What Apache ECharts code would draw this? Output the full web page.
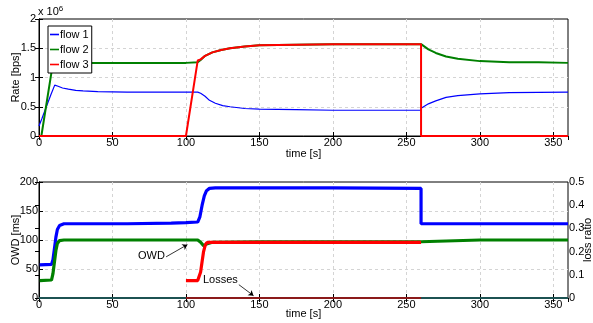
<!DOCTYPE html>
<html>
<head>
<meta charset="utf-8">
<script src="https://cdn.jsdelivr.net/npm/echarts@6/dist/echarts.min.js"></script>
<style>
  html, body { margin: 0; padding: 0; background: #fff; }
  #chart { width: 593px; height: 323px; }
</style>
</head>
<body>
<div id="chart"></div>
<script>
// top panel: rate in units of 1e6 bps
const rate1T = [0, 2, 5, 8, 10.7, 13, 16, 20, 25, 30, 40, 60, 80, 100, 108, 110, 113, 116, 120, 125, 130, 140, 150, 175, 200, 230, 260, 260.3, 265, 270, 277, 285, 300, 320, 340, 360];
const rate1V = [0.17, 0.3, 0.5, 0.7, 0.87, 0.85, 0.82, 0.8, 0.78, 0.77, 0.76, 0.75, 0.75, 0.75, 0.75, 0.73, 0.68, 0.61, 0.56, 0.52, 0.5, 0.47, 0.46, 0.45, 0.44, 0.44, 0.44, 0.48, 0.55, 0.6, 0.66, 0.69, 0.72, 0.74, 0.745, 0.75];
const rate2T = [1.6, 9.5, 12, 20, 40, 60, 80, 100, 108, 110, 113, 118, 124, 130, 140, 150, 175, 200, 230, 260, 260.3, 265, 270, 277, 285, 300, 320, 340, 360];
const rate2V = [0, 1.25, 1.25, 1.25, 1.25, 1.25, 1.25, 1.25, 1.26, 1.3, 1.37, 1.43, 1.47, 1.5, 1.53, 1.55, 1.56, 1.57, 1.57, 1.57, 1.55, 1.48, 1.42, 1.36, 1.32, 1.28, 1.26, 1.26, 1.25];
const rate3T = [0, 100, 108, 110, 113, 118, 124, 130, 140, 150, 175, 200, 230, 260, 260, 360];
const rate3V = [0, 0, 1.29, 1.31, 1.37, 1.43, 1.47, 1.5, 1.53, 1.55, 1.56, 1.57, 1.57, 1.57, 0, 0];

// bottom panel: one way delay [ms]
const owd1T = [0.5, 8.5, 9.5, 10.5, 11.5, 12.5, 14, 17, 30, 60, 90, 100, 108, 109.5, 111, 112.5, 114, 116, 120, 150, 200, 260, 260, 300, 360];
const owd1V = [57, 58, 66, 85, 105, 118, 125, 128, 128, 128, 129, 130, 131, 140, 160, 176, 185, 189, 190, 190, 190, 189, 128, 128, 128];
const owd2T = [0.5, 8.5, 9.5, 10.5, 11.5, 12.5, 14, 17, 60, 100, 108, 110, 112, 114, 118, 150, 200, 260, 260, 300, 360];
const owd2V = [30, 31, 42, 62, 82, 94, 99, 100, 100, 100, 100, 96, 90, 93, 96, 97, 97, 97, 100, 100, 100];
const owd3T = [100, 108, 109, 110, 111, 112, 113, 114, 116, 150, 200, 260];
const owd3V = [30, 30, 33, 45, 63, 80, 90, 95, 96, 96, 96, 96];
// loss ratio
const lossT = [0, 360];
const lossV = [0, 0];
const loss3T = [100, 260];
const loss3V = [0, 0];

const zip = (t, v) => t.map((x, i) => [x, v[i]]);

const FONT = "Liberation Sans";
const gridLine = { show: true, showMinLine: false, showMaxLine: false, lineStyle: { color: "#d4d4d4", type: [3, 3], width: 1 } };
const blackLine = { show: true, lineStyle: { color: "#000", width: 1 } };
const tick = { show: true, inside: true, length: 4, lineStyle: { color: "#000" } };
const label = { color: "#000", fontFamily: FONT, fontSize: 11 };
const nameStyle = { color: "#000", fontFamily: FONT, fontSize: 11 };

function timeAxis(gridIndex, bottom, nameGap) {
  return {
    type: "value", gridIndex, position: bottom ? "bottom" : "top",
    min: 0, max: 360, interval: 50,
    name: bottom ? "time [s]" : "", nameLocation: "middle", nameGap, nameMoveOverlap: false,
    nameTextStyle: nameStyle,
    axisLine: blackLine, axisTick: tick,
    axisLabel: bottom ? { ...label, margin: 1 } : { show: false },
    splitLine: bottom ? gridLine : { show: false },
  };
}

const chart = echarts.init(document.getElementById("chart"));

chart.setOption({
  animation: false,
  grid: [
    { left: 39, top: 19, width: 529, height: 117, show: true, borderColor: "#000", borderWidth: 1, containLabel: false, outerBoundsMode: "none" },
    { left: 39, top: 182, width: 529, height: 116, show: true, borderColor: "#000", borderWidth: 1, containLabel: false, outerBoundsMode: "none" },
  ],
  xAxis: [
    timeAxis(0, true, 12),
    timeAxis(0, false, 0),
    timeAxis(1, true, 10),
    timeAxis(1, false, 0),
  ],
  yAxis: [
    {
      type: "value", gridIndex: 0, min: 0, max: 2, interval: 0.5,
      name: "Rate [bps]", nameLocation: "middle", nameGap: 18, nameMoveOverlap: false, nameTextStyle: nameStyle,
      axisLine: blackLine, axisTick: tick, axisLabel: { ...label, margin: 3 }, splitLine: gridLine,
    },
    {
      type: "value", gridIndex: 0, position: "right", min: 0, max: 2, interval: 0.5,
      axisLine: blackLine, axisTick: tick, axisLabel: { show: false }, splitLine: { show: false },
    },
    {
      type: "value", gridIndex: 1, min: 0, max: 200, interval: 50,
      name: "OWD [ms]", nameLocation: "middle", nameGap: 18, nameMoveOverlap: false, nameTextStyle: nameStyle,
      axisLine: blackLine, axisTick: tick, axisLabel: { ...label, margin: 1 }, splitLine: gridLine,
    },
    {
      type: "value", gridIndex: 1, position: "right", min: 0, max: 0.5, interval: 0.1,
      name: "loss ratio", nameLocation: "middle", nameGap: 14, nameRotate: 90, nameMoveOverlap: false, nameTextStyle: nameStyle,
      axisLine: blackLine, axisTick: tick, axisLabel: { ...label, margin: 1 }, splitLine: { show: false },
    },
  ],
  legend: {
    data: ["flow 1", "flow 2", "flow 3"],
    orient: "vertical", left: 48, top: 26,
    padding: [2, 3, 2, 2], itemGap: 2, itemWidth: 9, itemHeight: 1.6, icon: "rect",
    borderColor: "#000", borderWidth: 1, backgroundColor: "#fff", borderRadius: 0,
    textStyle: { color: "#000", fontFamily: FONT, fontSize: 11, lineHeight: 13, padding: [0, 0, 0, -4] },
  },
  graphic: [
    {
      type: "text", left: 38, top: 5,
      style: {
        text: "x 10{s|6}", fill: "#000", font: "11px " + FONT,
        rich: { s: { fontSize: 8, verticalAlign: "top", padding: [0, 0, 6, 0], fontFamily: FONT } },
      },
    },
    { type: "text", left: 138, top: 250, style: { text: "OWD", fill: "#000", font: "11px " + FONT } },
    { type: "text", left: 203, top: 274, style: { text: "Losses", fill: "#000", font: "11px " + FONT } },
  ],
  series: [
    {
      name: "flow 1", type: "line", xAxisIndex: 0, yAxisIndex: 0, showSymbol: false, symbol: "none",
      data: zip(rate1T, rate1V), lineStyle: { color: "#0000ff", width: 1.2 }, itemStyle: { color: "#0000ff" },
    },
    {
      name: "flow 2", type: "line", xAxisIndex: 0, yAxisIndex: 0, showSymbol: false, symbol: "none",
      data: zip(rate2T, rate2V), lineStyle: { color: "#008000", width: 2 }, itemStyle: { color: "#008000" },
    },
    {
      name: "flow 3", type: "line", xAxisIndex: 0, yAxisIndex: 0, showSymbol: false, symbol: "none",
      data: zip(rate3T, rate3V), lineStyle: { color: "#ff0000", width: 2 }, itemStyle: { color: "#ff0000" },
    },
    {
      name: "owd 1", type: "line", xAxisIndex: 2, yAxisIndex: 2, showSymbol: false, symbol: "none",
      data: zip(owd1T, owd1V), lineStyle: { color: "#0000ff", width: 3.2 },
    },
    {
      name: "owd 2", type: "line", xAxisIndex: 2, yAxisIndex: 2, showSymbol: false, symbol: "none",
      data: zip(owd2T, owd2V), lineStyle: { color: "#008000", width: 3.2 },
      markLine: {
        silent: true, symbol: ["none", "arrow"], symbolSize: 5,
        lineStyle: { color: "#000", width: 0.8, type: "solid" }, label: { show: false },
        data: [
          [{ coord: [86.5, 71] }, { coord: [101, 92] }],
          [{ coord: [136, 23] }, { coord: [146, 4] }],
        ],
      },
    },
    {
      name: "owd 3", type: "line", xAxisIndex: 2, yAxisIndex: 2, showSymbol: false, symbol: "none",
      data: zip(owd3T, owd3V), lineStyle: { color: "#ff0000", width: 3.2 },
    },
    {
      name: "loss", type: "line", xAxisIndex: 2, yAxisIndex: 3, showSymbol: false, symbol: "none",
      data: zip(lossT, lossV), lineStyle: { color: "#1c5252", width: 2 },
    },
    {
      name: "loss 3", type: "line", xAxisIndex: 2, yAxisIndex: 3, showSymbol: false, symbol: "none",
      data: zip(loss3T, loss3V), lineStyle: { color: "#8b1a1a", width: 2 },
    },
  ],
});
</script>
</body>
</html>
